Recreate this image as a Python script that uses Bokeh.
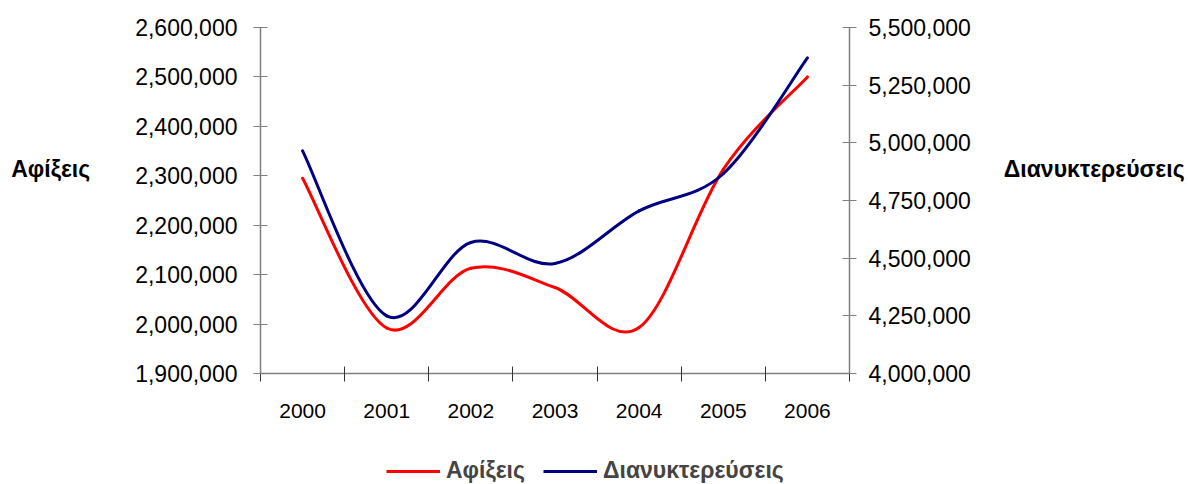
from bokeh.plotting import figure
from bokeh.layouts import column
from bokeh.models import (LinearAxis, Range1d, FixedTicker, NumeralTickFormatter,
                          Legend, LegendItem, ColumnDataSource)
from bokeh.embed import file_html
from bokeh.resources import INLINE

# ---- data ----
years = ["2000", "2001", "2002", "2003", "2004", "2005", "2006"]
arrivals = [2295000, 1992000, 2113000, 2074000, 1993000, 2313000, 2500000]       # Αφίξεις (left axis)
overnights = [4965000, 4250000, 4568000, 4477000, 4705000, 4866000, 5368000]     # Διανυκτερεύσεις (right axis)
left_ticks = [1900000, 2000000, 2100000, 2200000, 2300000, 2400000, 2500000, 2600000]
right_ticks = [4000000, 4250000, 4500000, 4750000, 5000000, 5250000, 5500000]
series_names = ["Αφίξεις", "Διανυκτερεύσεις"]
series_colors = ["#FF0000", "#000080"]

FONT = "Liberation Sans"
LW = 3


def smooth_source(ys):
    """Bezier segments through the data points (Excel-style smoothed line)."""
    n = len(ys)
    xs = list(range(n))
    d = dict(x0=[], y0=[], x1=[], y1=[], cx0=[], cy0=[], cx1=[], cy1=[])
    for i in range(n - 1):
        a = max(i - 1, 0)
        b = min(i + 2, n - 1)
        d["x0"].append(xs[i]); d["y0"].append(ys[i])
        d["x1"].append(xs[i + 1]); d["y1"].append(ys[i + 1])
        d["cx0"].append(xs[i] + (xs[i + 1] - xs[a]) / 6)
        d["cy0"].append(ys[i] + (ys[i + 1] - ys[a]) / 6)
        d["cx1"].append(xs[i + 1] - (xs[b] - xs[i]) / 6)
        d["cy1"].append(ys[i + 1] - (ys[b] - ys[i]) / 6)
    return ColumnDataSource(d)


p = figure(width=1188, height=440, output_backend="svg", toolbar_location=None,
           x_range=Range1d(-0.5, len(years) - 0.5),
           y_range=Range1d(left_ticks[0], left_ticks[-1]),
           min_border_left=260, min_border_right=339, min_border_top=27, min_border_bottom=67)
p.extra_y_ranges = {"right": Range1d(right_ticks[0], right_ticks[-1])}
p.outline_line_color = None
p.grid.visible = False

AX = "#808080"

# x axis
xa = p.xaxis[0]
xa.ticker = FixedTicker(ticks=list(range(len(years))),
                        minor_ticks=[i - 0.5 for i in range(len(years) + 1)])
xa.major_label_overrides = {i: y for i, y in enumerate(years)}
xa.major_tick_in = 0
xa.major_tick_out = 0
xa.minor_tick_in = 7
xa.minor_tick_out = 8
xa.minor_tick_line_color = "#333333"
xa.axis_line_color = AX
xa.axis_line_width = 1.5
xa.major_label_text_font = FONT
xa.major_label_text_font_size = "21px"
xa.major_label_text_color = "black"
xa.major_label_standoff = 22

# left y axis
ya = p.yaxis[0]
ya.ticker = FixedTicker(ticks=left_ticks, minor_ticks=[])
ya.formatter = NumeralTickFormatter(format="0,0")
ya.major_tick_in = 7
ya.major_tick_out = 7
ya.major_tick_line_color = AX
ya.axis_line_color = AX
ya.axis_line_width = 1.5
ya.major_label_text_font = FONT
ya.major_label_text_font_size = "23px"
ya.major_label_text_color = "black"
ya.major_label_standoff = 16
ya.axis_label = series_names[0] + "\n\n"
ya.axis_label_orientation = "horizontal"
ya.axis_label_text_font = FONT
ya.axis_label_text_font_size = "23px"
ya.axis_label_text_font_style = "bold"
ya.axis_label_text_color = "black"
ya.axis_label_standoff = 42

# right y axis
ra = LinearAxis(y_range_name="right", ticker=FixedTicker(ticks=right_ticks, minor_ticks=[]),
                formatter=NumeralTickFormatter(format="0,0"))
ra.major_tick_in = 7
ra.major_tick_out = 7
ra.major_tick_line_color = AX
ra.axis_line_color = AX
ra.axis_line_width = 1.5
ra.major_label_text_font = FONT
ra.major_label_text_font_size = "23px"
ra.major_label_text_color = "black"
ra.major_label_standoff = 12
ra.axis_label = series_names[1] + "\n\n"
ra.axis_label_orientation = "horizontal"
ra.axis_label_text_font = FONT
ra.axis_label_text_font_size = "23px"
ra.axis_label_text_font_style = "bold"
ra.axis_label_text_color = "black"
ra.axis_label_standoff = 30
p.add_layout(ra, "right")

# smoothed lines
bez = dict(x0="x0", y0="y0", x1="x1", y1="y1", cx0="cx0", cy0="cy0", cx1="cx1", cy1="cy1",
           line_width=LW, line_cap="round")
p.bezier(source=smooth_source(arrivals), line_color=series_colors[0], **bez)
p.bezier(source=smooth_source(overnights), line_color=series_colors[1], y_range_name="right", **bez)

# legend strip below the chart (its frame is aligned with the chart frame by the column layout)
lf = figure(width=1188, height=44, output_backend="svg", toolbar_location=None,
            x_axis_type=None, y_axis_type=None, min_border=0,
            x_range=Range1d(-100, -99), y_range=Range1d(0, 1))
lf.outline_line_color = None
lf.grid.visible = False
items = []
for name, col, ys in zip(series_names, series_colors, [arrivals, overnights]):
    # series drawn outside this strip's visible range; only its legend glyph shows
    r = lf.line(x=list(range(len(years))), y=ys, line_color=col, line_width=LW)
    items.append(LegendItem(label=name, renderers=[r]))
legend = Legend(items=items, orientation="horizontal", location=(126, 0),
                glyph_width=54, glyph_height=26, label_height=26, label_standoff=6, spacing=18,
                padding=0, margin=0, border_line_alpha=0, background_fill_alpha=0,
                label_text_font=FONT, label_text_font_size="23px", label_text_font_style="bold")
lf.add_layout(legend, "center")

open("out.html", "w").write(file_html(column(p, lf, spacing=0), INLINE))
